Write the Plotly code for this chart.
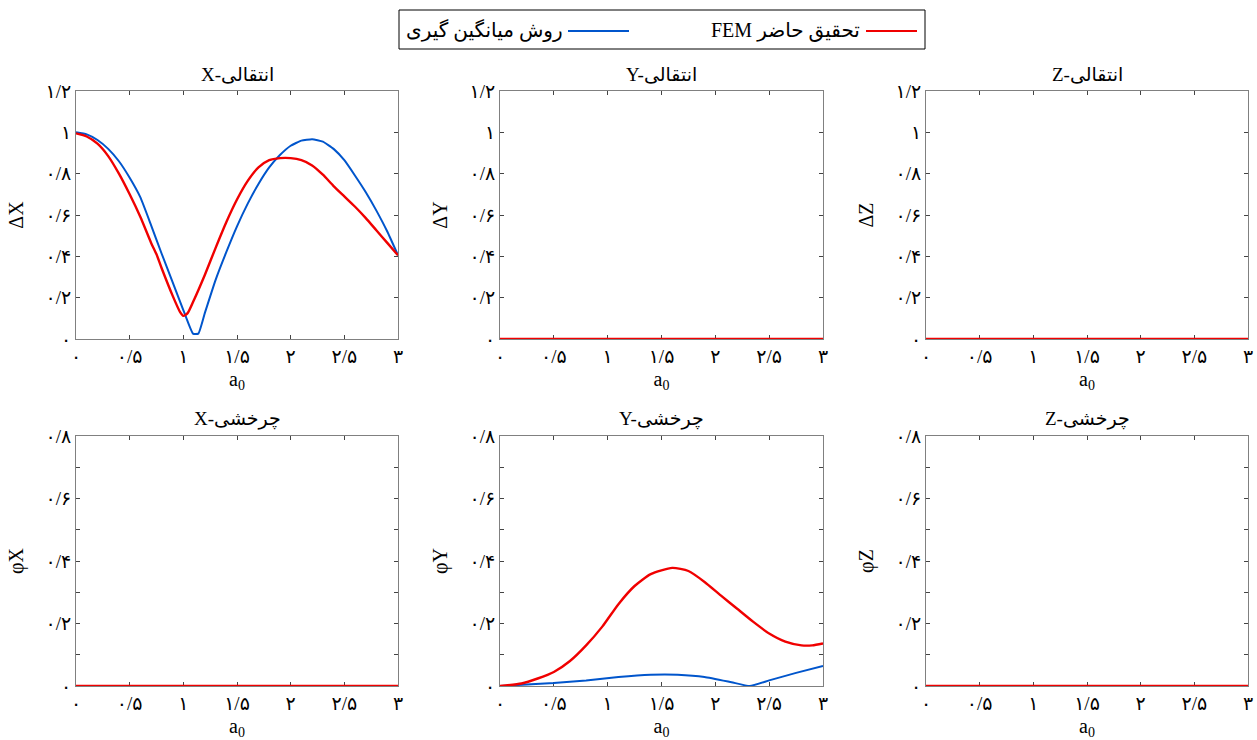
import plotly.graph_objects as go

# ---------------- data ----------------
# ΔX panel (translational X)
dx_fem_a = [0, 0.1, 0.2, 0.3, 0.4, 0.5, 0.6, 0.7, 0.75, 0.8, 0.9, 0.97, 1.0, 1.04, 1.1, 1.2, 1.3,
            1.4, 1.5, 1.6, 1.7, 1.8, 1.9, 2.0, 2.1, 2.2, 2.3, 2.4, 2.5, 2.6, 2.7, 2.8, 2.9, 3.0]
dx_fem = [0.995, 0.98, 0.945, 0.885, 0.80, 0.70, 0.59, 0.465, 0.41, 0.34, 0.21, 0.13, 0.112, 0.125,
          0.19, 0.31, 0.44, 0.565, 0.675, 0.765, 0.83, 0.865, 0.875, 0.875, 0.865, 0.84, 0.795,
          0.74, 0.69, 0.64, 0.585, 0.525, 0.465, 0.405]
dx_avg_a = [0, 0.1, 0.2, 0.3, 0.4, 0.5, 0.6, 0.7, 0.8, 0.9, 1.0, 1.09, 1.14, 1.2, 1.3, 1.4, 1.5,
            1.6, 1.7, 1.8, 1.9, 2.0, 2.1, 2.2, 2.3, 2.4, 2.5, 2.6, 2.7, 2.8, 2.9, 3.0]
dx_avg = [1.0, 0.99, 0.963, 0.92, 0.86, 0.78, 0.685, 0.55, 0.41, 0.275, 0.14, 0.026, 0.026, 0.125,
          0.285, 0.42, 0.545, 0.655, 0.75, 0.83, 0.89, 0.935, 0.96, 0.967, 0.955, 0.92, 0.865,
          0.79, 0.71, 0.62, 0.52, 0.405]

# ΔY, ΔZ, φX, φZ panels: both series lie on zero
zero_a = [0, 3]
zero_vals = [0, 0]

# φY panel (rotational Y)
py_fem_a = [0, 0.2, 0.35, 0.5, 0.65, 0.8, 0.95, 1.1, 1.25, 1.4, 1.6, 1.75, 1.9, 2.05, 2.2, 2.35,
            2.5, 2.65, 2.8, 2.9, 3.0]
py_fem = [0, 0.008, 0.024, 0.045, 0.08, 0.13, 0.19, 0.262, 0.32, 0.358, 0.378, 0.368, 0.333, 0.29,
          0.248, 0.206, 0.168, 0.142, 0.13, 0.13, 0.136]
py_avg_a = [0, 0.5, 0.8, 1.1, 1.4, 1.65, 1.9, 2.15, 2.32, 2.5, 2.75, 3.0]
py_avg = [0, 0.0096, 0.018, 0.029, 0.036, 0.036, 0.029, 0.012, 0.0, 0.018, 0.042, 0.064]

# tick labels
x_tickvals = [0, 0.5, 1, 1.5, 2, 2.5, 3]
x_ticktext = ["۰", "۰/۵", "۱", "۱/۵", "۲", "۲/۵", "۳"]
yt_tickvals = [0, 0.2, 0.4, 0.6, 0.8, 1.0, 1.2]
yt_ticktext = ["۰", "۰/۲", "۰/۴", "۰/۶", "۰/۸", "۱", "۱/۲"]
yb_tickvals = [0, 0.2, 0.4, 0.6, 0.8]
yb_ticktext = ["۰", "۰/۲", "۰/۴", "۰/۶", "۰/۸"]

titles = ["X-انتقالی", "Y-انتقالی", "Z-انتقالی", "X-چرخشی", "Y-چرخشی", "Z-چرخشی"]
ytitles = ["ΔX", "ΔY", "ΔZ", "φX", "φY", "φZ"]
legend_fem = "FEM تحقیق حاضر"
legend_avg = "روش میانگین گیری"

RED = "#f00000"
BLUE = "#0055cc"
FONT = "Liberation Serif, DejaVu Sans, serif"

W, H = 1257, 740

# ---------------- layout geometry (pixels) ----------------
col_px = [(76, 398), (500, 823), (926, 1248)]
row_px = [(91, 339), (436, 686)]

fig = go.Figure()

panels = [
    (dx_fem_a, dx_fem, dx_avg_a, dx_avg),
    (zero_a, zero_vals, zero_a, zero_vals),
    (zero_a, zero_vals, zero_a, zero_vals),
    (zero_a, zero_vals, zero_a, zero_vals),
    (py_fem_a, py_fem, py_avg_a, py_avg),
    (zero_a, zero_vals, zero_a, zero_vals),
]

for i, (fa, fv, aa, av) in enumerate(panels):
    n = i + 1
    xa = "x" if n == 1 else f"x{n}"
    ya = "y" if n == 1 else f"y{n}"
    fig.add_trace(go.Scatter(x=aa, y=av, xaxis=xa, yaxis=ya, mode="lines",
                             line=dict(color=BLUE, width=2, shape="spline", smoothing=0.4),
                             name=legend_avg, showlegend=False))
    fig.add_trace(go.Scatter(x=fa, y=fv, xaxis=xa, yaxis=ya, mode="lines",
                             line=dict(color=RED, width=2.4, shape="spline", smoothing=0.6),
                             name=legend_fem, showlegend=False))

layout = dict(width=W, height=H, margin=dict(l=0, r=0, t=0, b=0, autoexpand=False),
              paper_bgcolor="white", plot_bgcolor="white",
              font=dict(family=FONT, color="black", size=16), showlegend=False)

annotations = []
shapes = []
for i in range(6):
    n = i + 1
    r, c = divmod(i, 3)
    x0, x1 = col_px[c]
    y0, y1 = row_px[r]
    xkey = "xaxis" if n == 1 else f"xaxis{n}"
    ykey = "yaxis" if n == 1 else f"yaxis{n}"
    anchor_x = "y" if n == 1 else f"y{n}"
    anchor_y = "x" if n == 1 else f"x{n}"
    layout[xkey] = dict(domain=[x0 / W, x1 / W], anchor=anchor_x, range=[0, 3], automargin=False,
                        tickvals=x_tickvals, ticktext=x_ticktext, ticks="inside", ticklen=4,
                        tickcolor="#444", showline=True, linecolor="#808080", linewidth=1,
                        mirror="ticks", showgrid=False, zeroline=False, layer="below traces",
                        tickfont=dict(size=19, family=FONT),
                        title=dict(text="a<sub>0</sub>", font=dict(size=20, family=FONT), standoff=6))
    if r == 0:
        yrange, tv, tt, minor = [0, 1.2], yt_tickvals, yt_ticktext, None
    else:
        yrange, tv, tt = [0, 0.8], yb_tickvals, yb_ticktext
        minor = dict(dtick=0.1, ticks="inside", ticklen=4, tickcolor="#444", showgrid=False)
    yd = dict(domain=[1 - y1 / H, 1 - y0 / H], anchor=anchor_y, range=yrange, automargin=False,
              tickvals=tv, ticktext=tt, ticks="inside", ticklen=4, tickcolor="#444",
              showline=True, linecolor="#808080", linewidth=1, mirror="ticks",
              showgrid=False, zeroline=False, layer="below traces",
              tickfont=dict(size=19, family=FONT),
              title=dict(text=ytitles[i], font=dict(size=20, family=FONT), standoff=16))
    if minor:
        yd["minor"] = minor
    layout[ykey] = yd
    annotations.append(dict(text=titles[i], x=(x0 + x1) / 2 / W, y=1 - (y0 - 4) / H,
                            xref="paper", yref="paper", xanchor="center", yanchor="bottom",
                            showarrow=False, font=dict(size=19, family=FONT)))

# custom right-to-left legend box (symbol to the right of its label)
shapes.append(dict(type="rect", xref="paper", yref="paper", x0=399 / W, x1=925 / W,
                   y0=1 - 49 / H, y1=1 - 10 / H, line=dict(color="black", width=1),
                   fillcolor="white"))
shapes.append(dict(type="line", xref="paper", yref="paper", x0=866 / W, x1=917 / W,
                   y0=1 - 31 / H, y1=1 - 31 / H, line=dict(color=RED, width=2.2)))
shapes.append(dict(type="line", xref="paper", yref="paper", x0=568 / W, x1=629 / W,
                   y0=1 - 31 / H, y1=1 - 31 / H, line=dict(color=BLUE, width=2)))
annotations.append(dict(text=legend_fem, x=862 / W, y=1 - 30 / H, xref="paper", yref="paper",
                        xanchor="right", yanchor="middle", showarrow=False,
                        font=dict(size=20, family=FONT)))
annotations.append(dict(text=legend_avg, x=565 / W, y=1 - 30 / H, xref="paper", yref="paper",
                        xanchor="right", yanchor="middle", showarrow=False,
                        font=dict(size=20, family=FONT)))

layout["annotations"] = annotations
layout["shapes"] = shapes
fig.update_layout(**layout)

fig.write_html("out.html", config={"displayModeBar": False},
               post_script="document.body.style.margin='0';")
